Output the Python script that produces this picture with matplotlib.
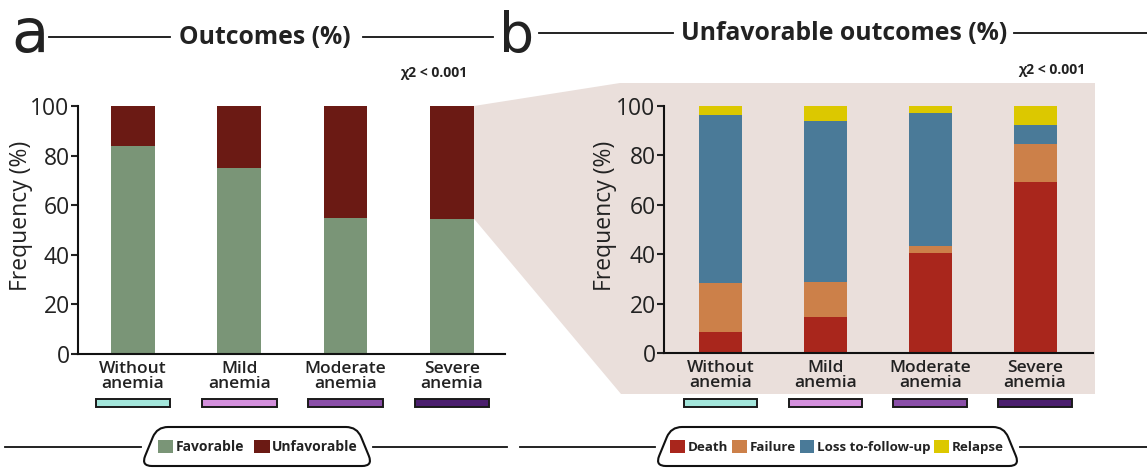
import numpy as np
import matplotlib
matplotlib.use('Agg')
import matplotlib.pyplot as plt
from matplotlib.patches import Polygon, PathPatch, Rectangle
from matplotlib.path import Path
from matplotlib import transforms

plt.rcParams['font.family'] = ['Open Sans', 'DejaVu Sans']

# data
groups = ['Without\nanemia', 'Mild\nanemia', 'Moderate\nanemia', 'Severe\nanemia']
group_colors = ['#a3e6db', '#d38fdc', '#8a4fa8', '#4b1f6e']

favorable = [83.9, 74.8, 55.0, 54.6]
unfavorable = [16.1, 25.2, 45.0, 45.4]

death = [8.4, 14.4, 40.6, 69.1]
failure = [20.1, 14.3, 2.7, 15.4]
loss = [68.0, 65.1, 53.7, 7.7]
relapse = [3.5, 6.2, 3.0, 7.8]

W, H = 1147, 468
fig = plt.figure(figsize=(W / 100, H / 100), dpi=100)


def fx(x):
    return x / W


def fy(y):
    return 1 - y / H


text_col = '#222222'
bg_col = '#eadfdb'

ax_a = fig.add_axes([fx(78), fy(354), fx(505) - fx(78), fy(106) - fy(354)])
ax_b = fig.add_axes([fx(664), fy(353), fx(1093) - fx(664), fy(106) - fy(353)])

x = np.arange(len(groups))
bw = 0.41

# panel a
ax_a.bar(x, favorable, bw, color='#7a9577', label='Favorable')
ax_a.bar(x, unfavorable, bw, bottom=favorable, color='#6b1a14', label='Unfavorable')
ax_a.set_xlim(-0.516, 3.498)

# panel b
bottom = np.zeros(len(groups))
b_series = [(death, '#a9261c', 'Death'), (failure, '#cc8049', 'Failure'),
            (loss, '#4a7a98', 'Loss to-follow-up'), (relapse, '#dcc800', 'Relapse')]
for vals, col, lab in b_series:
    ax_b.bar(x, vals, bw, bottom=bottom, color=col, label=lab)
    bottom = bottom + np.array(vals)
ax_b.set_xlim(-0.539, 3.553)

for ax, lx in ((ax_a, -0.105), (ax_b, -0.11)):
    ax.set_ylim(0, 100)
    ax.set_yticks([0, 20, 40, 60, 80, 100])
    ax.set_facecolor('none')
    ax.spines['top'].set_visible(False)
    ax.spines['right'].set_visible(False)
    for s in ('left', 'bottom'):
        ax.spines[s].set_linewidth(1.5)
        ax.spines[s].set_color('#111111')
    ax.tick_params(axis='y', length=5, width=1.5, pad=1, labelsize=16.5, colors=text_col)
    ax.tick_params(axis='x', length=0, pad=5)
    ax.set_xticks(x)
    ax.set_xticklabels(groups, fontsize=12.5, fontweight='semibold', color=text_col,
                       linespacing=0.95)
    ax.set_ylabel('Frequency (%)', fontsize=16.5, color=text_col)
    ax.yaxis.set_label_coords(lx, 0.556)
    # colored group boxes under the labels
    tr = transforms.blended_transform_factory(ax.transData, fig.transFigure)
    for i, c in enumerate(group_colors):
        ax.add_patch(Rectangle((x[i] - 0.35, fy(407)), 0.7, fy(399) - fy(407), transform=tr,
                               facecolor=c, edgecolor='#1a1a1a', lw=1.4, clip_on=False))

# zoom background behind panel b
to_fig = fig.transFigure.inverted()
top_pt = to_fig.transform(ax_a.transData.transform((x[3] + bw / 2, 100)))
low_pt = to_fig.transform(ax_a.transData.transform((x[3] + bw / 2, favorable[3])))
bg = Polygon([top_pt, (fx(620), fy(83)), (fx(1095), fy(83)), (fx(1095), fy(394)),
              (fx(621), fy(394)), low_pt], closed=True, transform=fig.transFigure,
             facecolor=bg_col, edgecolor='none', zorder=-1)
fig.patches.append(bg)

# titles
fig.text(fx(11), fy(52), 'a', fontsize=44, color=text_col, va='baseline', ha='left',
         family=['DejaVu Sans'])
fig.text(fx(499), fy(52), 'b', fontsize=40, color=text_col, va='baseline', ha='left',
         family=['DejaVu Sans'])
fig.text(fx(265), fy(37), 'Outcomes (%)', fontsize=17.8, fontweight='bold', color=text_col,
         ha='center', va='center')
fig.text(fx(844), fy(33), 'Unfavorable outcomes (%)', fontsize=17.8, fontweight='bold',
         color=text_col, ha='center', va='center')
for x0, x1, yy in [(49, 170, 37), (363, 493, 37), (539, 673, 33), (1014, 1147, 33)]:
    fig.add_artist(plt.Line2D([fx(x0), fx(x1)], [fy(yy), fy(yy)], color='#111111', lw=1.3))

fig.text(fx(434), fy(73), 'χ2 < 0.001', fontsize=10, fontweight='bold', color=text_col,
         ha='center', va='center')
fig.text(fx(1052), fy(70), 'χ2 < 0.001', fontsize=10, fontweight='bold', color=text_col,
         ha='center', va='center')


# legend tabs at the bottom
def tab(x0, x1, y_top, y_bot, slant, r):
    pts = [(x0, y_bot), (x0 + slant, y_top), (x1 - slant, y_top), (x1, y_bot)]
    pts = [np.array(p, float) for p in pts]
    verts, codes = [], []
    n = len(pts)
    for i in range(n):
        p, a, b = pts[i], pts[i - 1], pts[(i + 1) % n]
        p1 = p + r * (a - p) / np.linalg.norm(a - p)
        p2 = p + r * (b - p) / np.linalg.norm(b - p)
        verts += [p1, p, p2]
        codes += [Path.MOVETO if i == 0 else Path.LINETO, Path.CURVE3, Path.CURVE3]
    verts.append(verts[0])
    codes.append(Path.CLOSEPOLY)
    verts = [(fx(v[0]), fy(v[1])) for v in verts]
    return PathPatch(Path(verts, codes), transform=fig.transFigure, facecolor='white',
                     edgecolor='#111111', lw=1.5)


for x0, x1 in [(141, 373), (655, 1020)]:
    fig.patches.append(tab(x0, x1, 427, 466, 16, 11))
for x0, x1 in [(5, 141), (373, 507), (520, 655), (1020, 1147)]:
    fig.add_artist(plt.Line2D([fx(x0), fx(x1)], [fy(447), fy(447)], color='#111111', lw=1.3))

h, l = ax_a.get_legend_handles_labels()
fig.legend(h, l, loc='center', bbox_to_anchor=(fx(258), fy(447)), ncol=2, frameon=False,
           handlelength=1.1, handleheight=1.1, handletextpad=0.2, columnspacing=0.7,
           prop={'size': 10, 'weight': 'bold'}, labelcolor=text_col)
h, l = ax_b.get_legend_handles_labels()
fig.legend(h, l, loc='center', bbox_to_anchor=(fx(837), fy(447)), ncol=4, frameon=False,
           handlelength=1.1, handleheight=1.1, handletextpad=0.2, columnspacing=0.3,
           prop={'size': 9.6, 'weight': 'bold'}, labelcolor=text_col)

fig.savefig('out.png', dpi=100)
